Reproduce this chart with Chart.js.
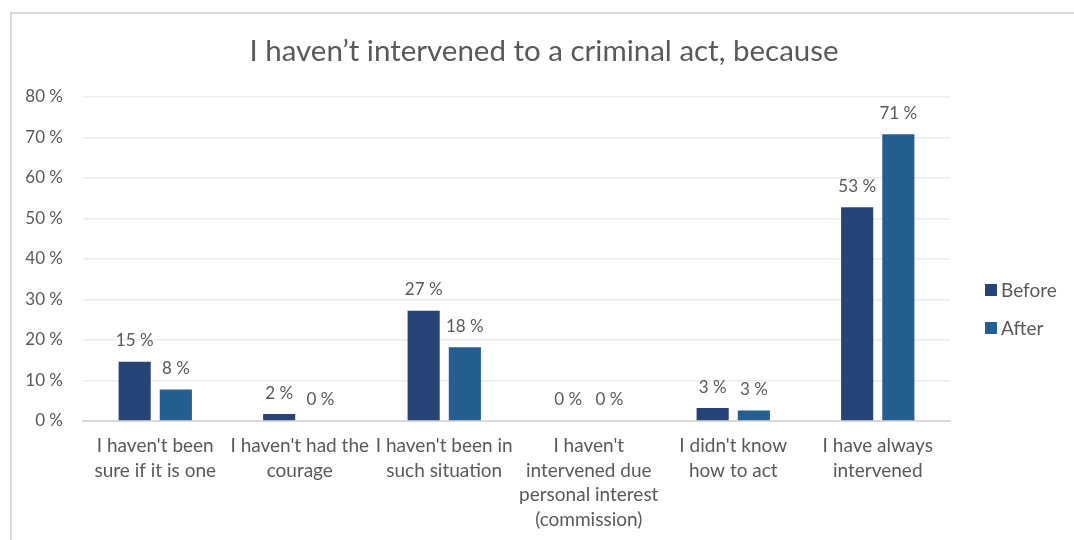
<!DOCTYPE html>
<html>
<head>
<meta charset="utf-8">
<script src="https://cdn.jsdelivr.net/npm/chart.js@4"></script>
<style>
  body { margin: 0; background: #fff; }
  #wrap { position: relative; width: 1074px; height: 540px; overflow: hidden; }
  #frame { position: absolute; left: 10px; top: 12px; width: 1100px; height: 600px;
           border-left: 2px solid #d9d9d9; border-top: 2px solid #d9d9d9; }
  #myChart { position: absolute; left: 0; top: 0; }
</style>
</head>
<body>
<div id="wrap">
  <div id="frame"></div>
  <canvas id="myChart" width="1074" height="540"></canvas>
</div>
<script>
const chartTitle = 'I haven\u2019t intervened to a criminal act, because'
const categories = [
  ["I haven't been", "sure if it is one"],
  ["I haven't had the", "courage"],
  ["I haven't been in", "such situation"],
  ["I haven't", "intervened due", "personal interest", "(commission)"],
  ["I didn't know", "how to act"],
  ["I have always", "intervened"]
]
const before = [14.6, 1.7, 27.2, 0, 3.2, 52.8]
const after = [7.8, 0, 18.2, 0, 2.6, 70.8]
const yTicks = [0, 10, 20, 30, 40, 50, 60, 70, 80]

const textColor = '#595959'
const fontFamily = 'Lato, "Open Sans", sans-serif'

// ***** value labels above each bar *****
const barLabels = {
  id: 'barLabels',
  afterDatasetsDraw(chart) {
    const ctx = chart.ctx
    ctx.save()
    ctx.font = '17px ' + fontFamily
    ctx.fillStyle = textColor
    ctx.textAlign = 'center'
    ctx.textBaseline = 'middle'
    chart.data.datasets.forEach((ds, i) => {
      chart.getDatasetMeta(i).data.forEach((bar, j) => {
        ctx.fillText(Math.round(ds.data[j]) + ' %', bar.x, bar.y - 21)
      })
    })
    ctx.restore()
  }
}

// ***** title and legend, placed on the whole canvas *****
const frameText = {
  id: 'frameText',
  afterDraw(chart) {
    const ctx = chart.ctx
    ctx.save()
    ctx.fillStyle = textColor
    ctx.textBaseline = 'middle'

    ctx.font = '29.5px ' + fontFamily
    ctx.textAlign = 'center'
    ctx.fillText(chartTitle, 544, 51)

    ctx.font = '19px ' + fontFamily
    ctx.textAlign = 'left'
    chart.data.datasets.forEach((ds, i) => {
      const y = 290 + i * 38
      ctx.fillStyle = ds.backgroundColor
      ctx.fillRect(985, y - 6, 12, 12)
      ctx.fillStyle = textColor
      ctx.fillText(ds.label, 1001, y + 1)
    })
    ctx.restore()
  }
}

const ctx = document.getElementById('myChart').getContext('2d')
const myChart = new Chart(ctx, {
  type: 'bar',
  data: {
    labels: categories,
    datasets: [{
      label: 'Before',
      data: before,
      backgroundColor: '#264478'
    }, {
      label: 'After',
      data: after,
      backgroundColor: '#255e91'
    }]
  },
  options: {
    responsive: false,
    animation: false,
    datasets: {
      bar: { categoryPercentage: 0.57, barPercentage: 0.78 }
    },
    layout: { padding: { left: 0, right: 124, top: 97, bottom: 0 } },
    plugins: {
      title: { display: false },
      legend: { display: false },
      tooltip: { enabled: false }
    },
    scales: {
      x: {
        grid: { display: false },
        border: { color: '#d9d9d9', width: 2 },
        ticks: {
          color: textColor,
          font: { family: fontFamily, size: 19, lineHeight: 1.29 },
          maxRotation: 0,
          autoSkip: false,
          padding: 5
        },
        afterFit: scale => { scale.height = 119 }
      },
      y: {
        min: 0,
        max: 80,
        afterBuildTicks: scale => { scale.ticks = yTicks.map(v => ({ value: v })) },
        grid: { color: '#ececec', lineWidth: 1.5, drawTicks: false },
        border: { display: false },
        ticks: {
          color: textColor,
          font: { family: fontFamily, size: 17 },
          padding: 20,
          callback: v => v + ' %'
        },
        afterFit: scale => { scale.width = 83 }
      }
    }
  },
  plugins: [barLabels, frameText]
})
</script>
</body>
</html>
